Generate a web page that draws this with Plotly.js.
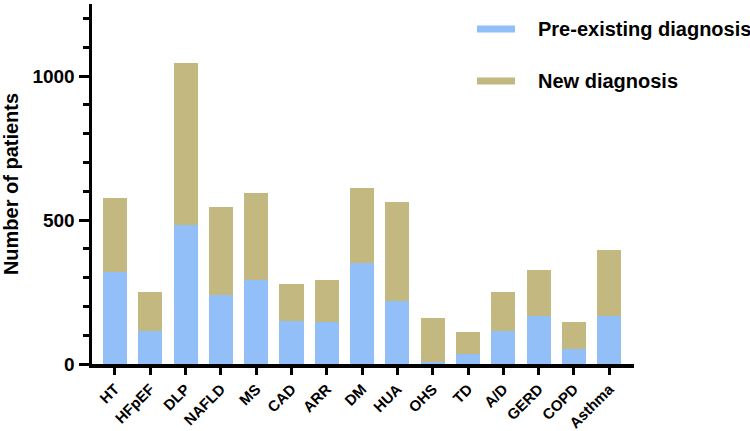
<!DOCTYPE html>
<html>
<head>
<meta charset="utf-8">
<script src="https://cdn.plot.ly/plotly-3.0.1.min.js"></script>
<style>
  html, body { margin: 0; padding: 0; background: #fff; }
  #chart { width: 750px; height: 431px; }
</style>
</head>
<body>
<div id="chart"></div>
<script>
// Comorbidities: number of patients, split by when the diagnosis was made
const categories = ['HT', 'HFpEF', 'DLP', 'NAFLD', 'MS', 'CAD', 'ARR', 'DM', 'HUA', 'OHS', 'TD', 'A/D', 'GERD', 'COPD', 'Asthma'];
const preExisting = [320, 113, 482, 238, 293, 148, 146, 350, 218, 8, 36, 113, 167, 53, 168];
const totals      = [578, 249, 1046, 545, 594, 279, 292, 612, 561, 161, 110, 250, 326, 147, 396];
const newDiagnosis = totals.map((t, i) => t - preExisting[i]);

const seriesNames = ['Pre-existing diagnosis', 'New diagnosis'];
const colors = ['#93BFF8', '#C2B880'];

const FONT = 'Liberation Sans, Arial, sans-serif';

const traces = [
  { type: 'bar', name: seriesNames[0], x: categories, y: preExisting,
    marker: { color: colors[0] }, hoverinfo: 'x+y+name' },
  { type: 'bar', name: seriesNames[1], x: categories, y: newDiagnosis,
    marker: { color: colors[1] }, hoverinfo: 'x+y+name' }
];

// plot area in pixels: left 92, right 634, top 4, bottom 364
const L = 92, R = 634, T = 4, B = 364;
const px = v => (v - L) / (R - L);
const py = v => (B - v) / (B - T);

// custom legend: wide flat swatches with bold labels
const legendRows = [29, 81];
const shapes = legendRows.map((yc, i) => ({
  type: 'rect', xref: 'paper', yref: 'paper',
  x0: px(477), x1: px(515), y0: py(yc + 3.5), y1: py(yc - 3.5),
  fillcolor: colors[i], line: { width: 0 }
}));
const annotations = legendRows.map((yc, i) => ({
  xref: 'paper', yref: 'paper', x: px(536), y: py(yc),
  xanchor: 'left', yanchor: 'middle', showarrow: false,
  text: '<b>' + seriesNames[i] + '</b>',
  font: { family: FONT, size: 20, color: '#000' }
}));

const layout = {
  width: 750, height: 431,
  margin: { l: L, r: 750 - R, t: T, b: 431 - B, pad: 0 },
  paper_bgcolor: '#fff', plot_bgcolor: '#fff',
  barmode: 'stack', bargap: 0.32,
  showlegend: false,
  font: { family: FONT, color: '#000' },
  xaxis: {
    type: 'category', range: [-0.65, 14.7],
    showline: true, linecolor: '#000', linewidth: 3.5,
    ticks: 'outside', ticklen: 7, tickwidth: 3, tickcolor: '#000',
    tickangle: -45, showgrid: false, zeroline: false,
    tickfont: { family: FONT, size: 15, color: '#000', weight: 'bold' }
  },
  yaxis: {
    range: [0, 1250], tickvals: [0, 500, 1000],
    showline: true, linecolor: '#000', linewidth: 3.5,
    ticks: 'outside', ticklen: 10, tickwidth: 3, tickcolor: '#000',
    minor: { dtick: 100, tick0: 0, ticks: 'outside', ticklen: 6, tickwidth: 3, tickcolor: '#000', showgrid: false },
    showgrid: false, zeroline: false,
    tickfont: { family: FONT, size: 19, color: '#000', weight: 'bold' },
    title: { text: '<b>Number of patients</b>', standoff: 12,
             font: { family: FONT, size: 20, color: '#000' } }
  },
  shapes: shapes,
  annotations: annotations
};

Plotly.newPlot('chart', traces, layout, { displayModeBar: false, staticPlot: true });
</script>
</body>
</html>
